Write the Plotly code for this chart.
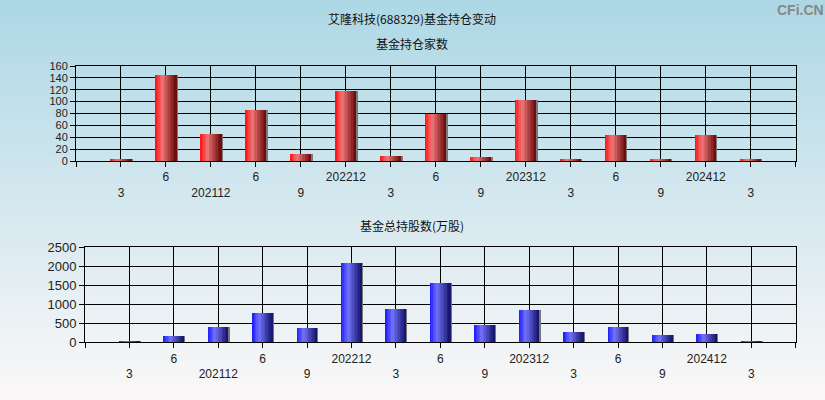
import plotly.graph_objects as go

# ---- data ----
tick_labels = ["3", "6", "202112", "6", "9", "202212", "3", "6", "9", "202312", "3", "6", "9", "202412", "3"]
fund_count = [2, 145, 46, 86, 12, 118, 8, 79, 7, 103, 3, 44, 3, 44, 2]
fund_shares = [25, 167, 400, 770, 375, 2085, 875, 1560, 455, 850, 270, 400, 190, 215, 25]

title_main = "艾隆科技(688329)基金持仓变动"
title_top = "基金持仓家数"
title_bottom = "基金总持股数(万股)"

W, H = 825, 400
positions = list(range(1, len(tick_labels) + 1))

fig = go.Figure()

def lerp(c1, c2, t):
    return tuple(int(round(a + (b - a) * t)) for a, b in zip(c1, c2))

def grad_color(stops, t):
    for (t0, c0), (t1, c1) in zip(stops[:-1], stops[1:]):
        if t <= t1:
            return lerp(c0, c1, (t - t0) / (t1 - t0) if t1 > t0 else 0)
    return stops[-1][1]

red_stops = [(0.0, (255, 15, 15)), (0.35, (238, 120, 120)), (1.0, (105, 8, 8))]
blue_stops = [(0.0, (25, 25, 255)), (0.35, (115, 115, 250)), (1.0, (18, 18, 105))]

def add_cyl_bars(values, xa, ya, stops, width):
    n = 14
    sw = width / n
    # shadow
    fig.add_trace(go.Bar(x=positions, y=values, width=0.04, offset=width / 2 - 0.01,
                         marker=dict(color="rgb(120,120,120)", line=dict(width=0)),
                         xaxis=xa, yaxis=ya, hoverinfo="skip", showlegend=False))
    for k in range(n):
        t = (k + 0.5) / n
        c = grad_color(stops, t)
        fig.add_trace(go.Bar(x=positions, y=values, width=sw * 1.15, offset=-width / 2 + k * sw,
                             marker=dict(color="rgb(%d,%d,%d)" % c, line=dict(width=0)),
                             xaxis=xa, yaxis=ya, hoverinfo="skip", showlegend=False))

add_cyl_bars(fund_count, "x", "y", red_stops, 0.46)
add_cyl_bars(fund_shares, "x2", "y2", blue_stops, 0.45)

# gradient background
shapes = []
top_c = (173, 215, 229)
bot_c = (251, 248, 248)
N = 80
for i in range(N):
    y0 = 1 - i / N
    y1 = 1 - (i + 1) / N
    c = lerp(top_c, bot_c, (i + 0.5) / N)
    shapes.append(dict(type="rect", xref="paper", yref="paper", x0=0, x1=1, y0=y1 - 0.002, y1=y0,
                       fillcolor="rgb(%d,%d,%d)" % c, line=dict(width=0), layer="below"))

ticktext = [""] + [(lab if i % 2 == 1 else "<br>" + lab) for i, lab in enumerate(tick_labels)] + [""]
tickvals = list(range(0, len(tick_labels) + 2))

xcommon = dict(range=[0, len(tick_labels) + 1], tickvals=tickvals, ticktext=ticktext,
               showgrid=True, gridcolor="black", gridwidth=1, zeroline=False,
               showline=True, linecolor="black", linewidth=1, mirror=True,
               ticks="outside", ticklen=5, tickcolor="black", automargin=False,
               tickfont=dict(family="Liberation Sans, Arial", size=12, color="#222"),
               fixedrange=True)

ycommon = dict(showgrid=True, gridcolor="black", gridwidth=1, zeroline=False,
               showline=True, linecolor="black", linewidth=1, mirror=True, automargin=False,
               ticks="outside", ticklen=5, tickcolor="black", fixedrange=True)

fig.update_layout(
    width=W, height=H,
    margin=dict(l=0, r=0, t=0, b=0, pad=0),
    paper_bgcolor="rgb(220,234,240)",
    plot_bgcolor="rgba(0,0,0,0)",
    barmode="overlay",
    bargap=0,
    showlegend=False,
    shapes=shapes,
    xaxis=dict(domain=[76 / W, 795.7 / W], anchor="y", **xcommon),
    yaxis=dict(domain=[1 - 161 / H, 1 - 66 / H], anchor="x", range=[0, 160], dtick=20,
               tickfont=dict(family="Liberation Sans, Arial", size=11, color="#222"), **ycommon),
    xaxis2=dict(domain=[85 / W, 795.7 / W], anchor="y2", **xcommon),
    yaxis2=dict(domain=[1 - 342.3 / H, 1 - 247.3 / H], anchor="x2", range=[0, 2500], dtick=500,
                tickfont=dict(family="Liberation Sans, Arial", size=13, color="#222"), **ycommon),
    annotations=[
        dict(text=title_main, x=412 / W, y=1 - 18 / H, xref="paper", yref="paper", showarrow=False,
             font=dict(family="Noto Sans CJK SC", size=12, color="#111"), xanchor="center", yanchor="middle"),
        dict(text=title_top, x=412 / W, y=1 - 43 / H, xref="paper", yref="paper", showarrow=False,
             font=dict(family="Noto Sans CJK SC", size=12, color="#111"), xanchor="center", yanchor="middle"),
        dict(text=title_bottom, x=412 / W, y=1 - 225 / H, xref="paper", yref="paper", showarrow=False,
             font=dict(family="Noto Sans CJK SC", size=12, color="#111"), xanchor="center", yanchor="middle"),
        dict(text="<b>CFi.CN</b>", x=800 / W, y=1 - 10 / H, xref="paper", yref="paper", showarrow=False,
             font=dict(family="Liberation Sans, Arial", size=14, color="rgb(135,135,135)"),
             xanchor="center", yanchor="middle"),
    ],
)

fig.write_html("out.html", config={"displayModeBar": False},
               post_script="document.body.style.margin='0';document.body.style.overflow='hidden';")
